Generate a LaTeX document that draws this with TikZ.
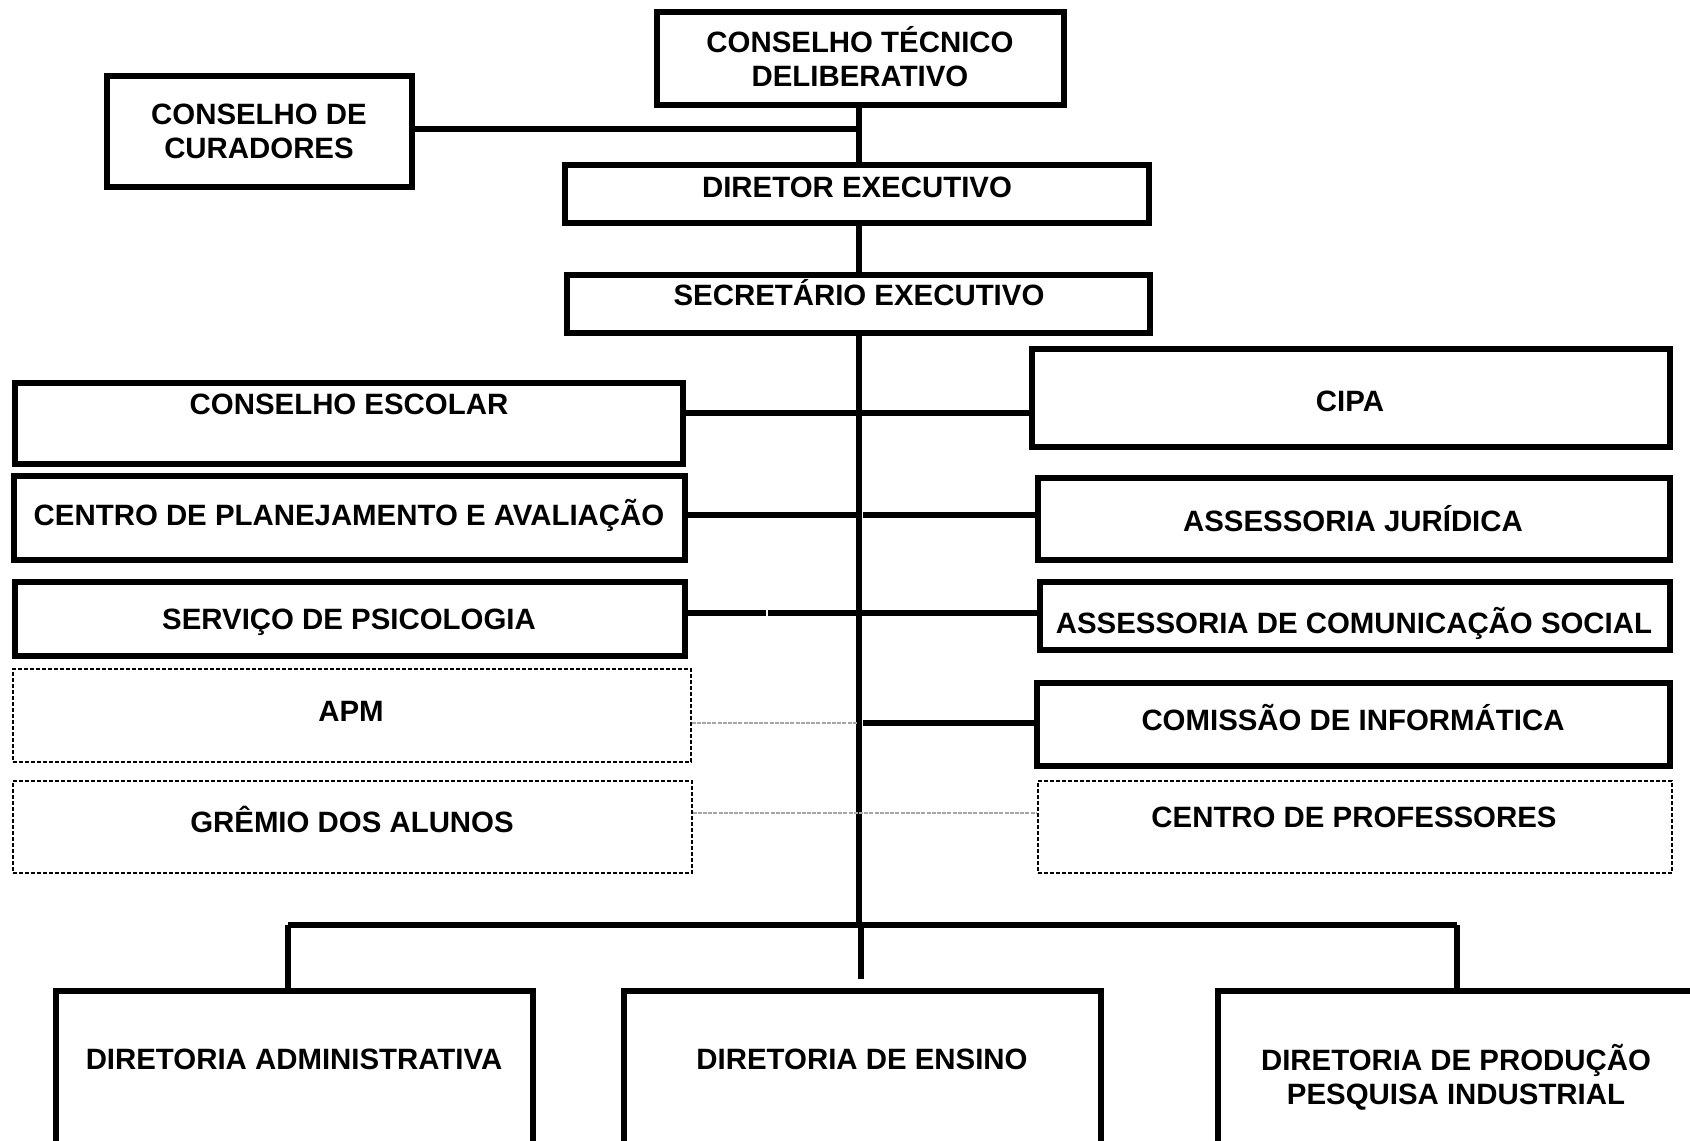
\documentclass[tikz,border=0pt]{standalone}
\usepackage{fontspec}
\setmainfont{Liberation Sans}
\usetikzlibrary{fit}
\begin{document}
\begin{tikzpicture}[x=0.5pt,y=-0.5pt,
  box/.style={draw, line width=2.6pt, inner sep=0pt, fill=white},
  dbox/.style={draw, line width=0.6pt, dash pattern=on 2pt off 1pt, inner sep=0pt},
  lbl/.style={font=\fontsize{14.7}{17}\selectfont\bfseries, align=center, inner sep=0pt, anchor=base},
  conn/.style={line width=2.6pt},
  gconn/.style={line width=0.6pt, draw=black!35, dash pattern=on 2pt off 0.6pt},
]
\useasboundingbox (0,0) rectangle (1690,1140);
\fill[white] (0,0) rectangle (1690,1140);

\coordinate (sp) at (859,0);
\coordinate (j0) at (859,129);
\coordinate (bus) at (859,925);
\coordinate (busL) at (288,925);
\coordinate (busR) at (1457,925);
\coordinate (stub) at (861,979);

% boxes
\node[box, fit={(657,12) (1064,105)}] (ctd) {};
\node[box, fit={(107,76) (412,187)}] (cur) {};
\node[box, fit={(565,165) (1149,223)}] (dex) {};
\node[box, fit={(567,275) (1150,333)}] (sec) {};
\node[box, fit={(15,383) (683,464)}] (ce) {};
\node[box, fit={(1032,349) (1670,447)}] (cipa) {};
\node[box, fit={(14,476) (685,560)}] (cpa) {};
\node[box, fit={(1038,478) (1670,560)}] (aj) {};
\node[box, fit={(15,582) (685,656)}] (sp1) {};
\node[box, fit={(1040,582) (1670,650)}] (acs) {};
\node[dbox, fit={(13,669) (691,762)}] (apm) {};
\node[box, fit={(1037,683) (1670,766)}] (ci) {};
\node[dbox, fit={(13,781) (692,873)}] (ga) {};
\node[dbox, fit={(1038,781) (1672,873)}] (cp) {};
\node[box, fit={(56,991) (533,1146)}] (da) {};
\node[box, fit={(624,991) (1101,1146)}] (den) {};
\node[box, fit={(1218,991) (1702,1146)}] (dp) {};

% spine
\draw[conn] (ctd.south -| sp) -- (dex.north -| sp);
\draw[conn] (dex.south -| sp) -- (sec.north -| sp);
\draw[conn] (sec.south -| sp) -- (bus);
\draw[conn] (cur.east |- j0) -- ([xshift=1pt]j0);
\draw[conn] (busL) -- (busR);
\draw[conn] (busL) -- (da.north -| busL);
\draw[conn] (busR) -- (dp.north -| busR);
\draw[conn] (bus -| stub) -- (stub);

% side branches
\coordinate (j1) at (859,413);
\coordinate (j2) at (859,515);
\coordinate (j3) at (859,613);
\coordinate (j4) at (859,723);
\coordinate (j5) at (859,813);
\draw[conn] (ce.east |- j1) -- (cipa.west |- j1);
\draw[conn] (cpa.east |- j2) -- (j2);
\draw[conn] ([xshift=2pt]j2) -- (aj.west |- j2);
\draw[conn] (sp1.east |- j3) -- (766,613);
\draw[conn] (768,613) -- (acs.west |- j3);
\draw[gconn] (apm.east |- j4) -- ([xshift=-1pt]j4);
\draw[conn] ([xshift=2pt]j4) -- (ci.west |- j4);
\draw[gconn] (ga.east |- j5) -- (cp.west |- j5);

% labels
\node[lbl] (tctd) at (860,86) {CONSELHO TÉCNICO\\DELIBERATIVO};
\node[lbl] (tcur) at (259,158.5) {CONSELHO DE\\CURADORES};
\node[lbl] (tdex) at (857,197.5) {DIRETOR EXECUTIVO};
\node[lbl] (tsec) at (859,305.5) {SECRETÁRIO EXECUTIVO};
\node[lbl] (tce) at (349,414.5) {CONSELHO ESCOLAR};
\node[lbl] (tcipa) at (1350,411.5) {CIPA};
\node[lbl] (tcpa) at (349,525.5) {CENTRO DE PLANEJAMENTO E AVALIAÇÃO};
\node[lbl] (taj) at (1353,531.5) {ASSESSORIA JURÍDICA};
\node[lbl] (tsp) at (349,629.5) {SERVIÇO DE PSICOLOGIA};
\node[lbl] (tacs) at (1354,633.5) {ASSESSORIA DE COMUNICAÇÃO SOCIAL};
\node[lbl] (tapm) at (351,721.5) {APM};
\node[lbl] (tci) at (1353,730.5) {COMISSÃO DE INFORMÁTICA};
\node[lbl] (tga) at (352,832.5) {GRÊMIO DOS ALUNOS};
\node[lbl] (tcp) at (1354,827.5) {CENTRO DE PROFESSORES};
\node[lbl] (tda) at (294,1069.5) {DIRETORIA ADMINISTRATIVA};
\node[lbl] (tden) at (862,1069.5) {DIRETORIA DE ENSINO};
\node[lbl] (tdp) at (1456,1104.5) {DIRETORIA DE PRODUÇÃO\\PESQUISA INDUSTRIAL};
\end{tikzpicture}
\end{document}
